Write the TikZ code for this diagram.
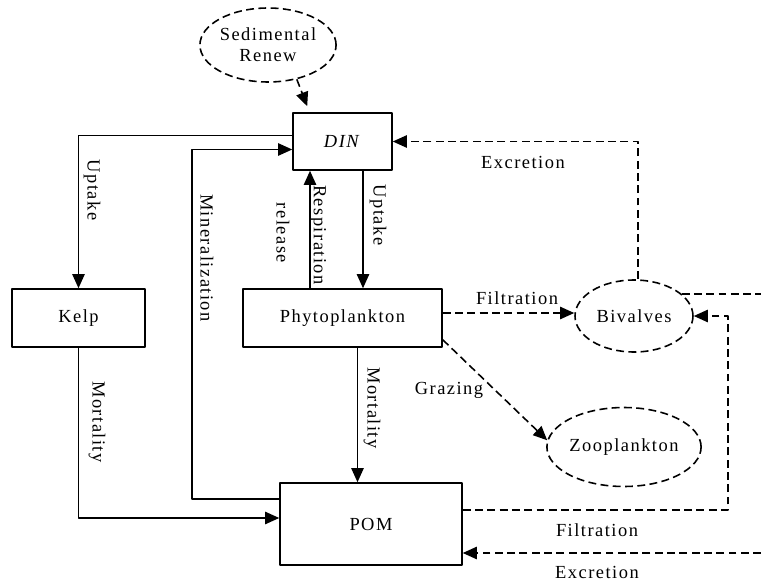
\documentclass[tikz,border=0pt]{standalone}
\usepackage{fontspec}
\setmainfont{Liberation Serif}[LetterSpace=8]
\usetikzlibrary{arrows.meta,shapes.geometric}
\begin{document}
\begin{tikzpicture}[x=0.02cm, y=-0.02cm, font=\fontsize{10.5}{12}\selectfont, line join=round, >={Triangle[length=8pt,width=7pt]}, line width=0.9pt,
	box/.style={draw, rectangle, inner sep=0pt},
	ell/.style={draw, ellipse, dashed, dash pattern=on 4.5pt off 2.5pt, inner sep=0pt},
	dsh/.style={dash pattern=on 4.5pt off 2.5pt},
	lab/.style={inner sep=0pt}]
		\useasboundingbox (0,0) rectangle (761,581);
		\coordinate (edge) at (761,0); %bien phai
		% cac khoi
		\node[box, minimum width=1.98cm, minimum height=1.14cm] (din) at (342.5,141.5) {\textit{DIN}};
		\node[box, minimum width=2.66cm, minimum height=1.16cm] (kelp) at (78.5,318) {Kelp};
		\node[box, minimum width=3.98cm, minimum height=1.16cm] (phyto) at (342.5,318) {Phytoplankton};
		\node[box, minimum width=3.64cm, minimum height=1.64cm] (pom) at (371,524) {POM};
		\node[ell, minimum width=2.34cm, minimum height=1.48cm, align=center] (sed) at (268,45) {Sedimental\\Renew};
		\node[ell, minimum width=2.36cm, minimum height=1.44cm] (biv) at (634,316) {Bivalves};
		\node[ell, minimum width=2.72cm, minimum height=1.58cm] (zoo) at (624,447) {Zooplankton};
		% cac mui ten
		\draw[dsh,->] (sed.310) -- ([xshift=0.3cm,yshift=0.12cm]din.north west);
		\draw[->] ([yshift=0.12cm]din.west) -| (kelp.north);
		\draw[->] ([yshift=0.5cm]pom.west) -- ++(-87,0) |- ([yshift=-0.16cm]din.west);
		\draw[->] (kelp.south) |- ([yshift=0.12cm]pom.west);
		\draw[->] ([xshift=-0.65cm]phyto.north) -- ([xshift=-0.65cm]din.south);
		\draw[->] ([xshift=0.41cm]din.south) -- ([xshift=0.41cm]phyto.north);
		\draw[->] ([xshift=0.3cm]phyto.south) -- ([xshift=0.3cm]phyto.south |- pom.north);
		\draw[dsh,->] ([yshift=0.1cm]phyto.east) -- ([yshift=0.1cm]phyto.east -| biv.west);
		\draw[dsh,->] ([yshift=0.16cm]phyto.south east) -- (zoo.175);
		\draw[dsh,->] ([xshift=0.08cm]biv.north) |- (din.east);
		\draw[dsh] (biv.25) -- (biv.25 -| edge);
		\draw[dsh,->] ([yshift=0.28cm]pom.east) -| ([xshift=0.68cm]biv.east) -- (biv.east);
		\draw[dsh,->] ([yshift=-0.58cm]pom.east -| edge) -- ([yshift=-0.58cm]pom.east);
		% nhan
		\node[lab, rotate=-90] (l1) at (92,190) {Uptake};
		\node[lab, rotate=-90] (l2) at (207,258) {Mineralization};
		\node[lab, rotate=-90] (l3) at (283,233) {release};
		\node[lab, rotate=-90] (l4) at (318,235) {Respiration};
		\node[lab, rotate=-90] (l5) at (378,215) {Uptake};
		\node[lab, rotate=-90] (l6) at (97,422) {Mortality};
		\node[lab, rotate=-90] (l7) at (372,408) {Mortality};
		\node[lab] (l8) at (523,162) {Excretion};
		\node[lab] (l9) at (517,298) {Filtration};
		\node[lab] (l10) at (449,390) {Grazing};
		\node[lab] (l11) at (597,530) {Filtration};
		\node[lab] (l12) at (597,572) {Excretion};
\end{tikzpicture}
\end{document}
